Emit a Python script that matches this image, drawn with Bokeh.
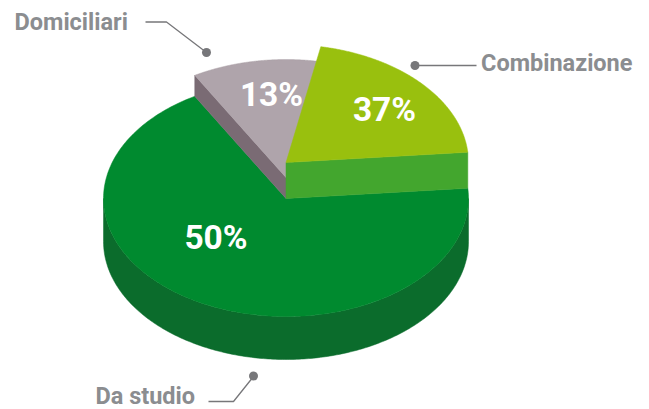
import numpy as np
from bokeh.plotting import figure, ColumnDataSource
from bokeh.core.properties import value
from bokeh.embed import file_html
from bokeh.resources import INLINE

# Data
categories = ["Da studio", "Combinazione", "Domiciliari"]
shares = [50, 37, 13]                # printed percentages
drawn_sweep_deg = [245, 74, 41]      # angular size of each slice as drawn in the picture
first_slice_start_deg = 120          # Da studio starts here and runs counter-clockwise

W, H = 649, 409
CX, RX, RY = 285.5, 182.5, 118
Y_BASE, Y_GRAY, Y_OLIVE = 198, 177, 162
DEPTH = 43

p = figure(width=W, height=H, x_range=(0, W), y_range=(H, 0),
           output_backend="svg", toolbar_location=None, min_border=0,
           x_axis_type="linear", outline_line_color=None)
p.axis.visible = False
p.grid.visible = False
p.background_fill_color = "white"


def arc(cy, a0, a1, n=240):
    t = np.radians(np.linspace(a0, a1, n))
    return CX + RX * np.cos(t), cy - RY * np.sin(t)


def wedge(cy, a0, a1):
    x, y = arc(cy, a0, a1)
    return np.r_[CX, x], np.r_[cy, y]


def pt(cy, a):
    t = np.radians(a)
    return CX + RX * np.cos(t), cy - RY * np.sin(t)


green_a0 = first_slice_start_deg
green_a1 = green_a0 + drawn_sweep_deg[0]
olive_a0 = green_a1 - 360
olive_a1 = olive_a0 + drawn_sweep_deg[1]
gray_a0 = olive_a1
gray_a1 = gray_a0 + drawn_sweep_deg[2]

# Outer wall of the base
xw, yw = arc(Y_BASE, 180, 360)
p.patch(np.r_[xw, xw[::-1]], np.r_[yw, (yw + DEPTH)[::-1]],
        fill_color="#0b6c2c", line_color="#0b6c2c", line_width=0.5)

# Base slice top
x, y = wedge(Y_BASE, green_a0, green_a1)
p.patch(x, y, fill_color="#008a2f", line_color="#008a2f", line_width=0.5)

# Gray slice: inner face, then top
ex, ey = pt(Y_GRAY, gray_a1)
ex2, ey2 = pt(Y_BASE, gray_a1)
p.patch([ex, CX, CX, ex2], [ey, Y_GRAY, Y_BASE, ey2],
        fill_color="#7a6b74", line_color="#7a6b74", line_width=0.5)
x, y = wedge(Y_GRAY, gray_a0, gray_a1)
p.patch(x, y, fill_color="#afa4ab", line_color="#afa4ab", line_width=0.5)

# Olive slice: inner face, then top
ex, ey = pt(Y_OLIVE, olive_a0)
ex2, ey2 = pt(Y_BASE, olive_a0)
p.patch([CX, ex, ex2, CX], [Y_OLIVE, ey, ey2, Y_BASE],
        fill_color="#43a62e", line_color="#43a62e", line_width=0.5)
x, y = wedge(Y_OLIVE, olive_a0, olive_a1)
p.patch(x, y, fill_color="#99c00e", line_color="#99c00e", line_width=0.5)

# Percent labels
pct = ColumnDataSource(dict(
    x=[215.5, 384, 271], y=[237, 109, 94],
    t=[f"{s}%" for s in shares]))
p.text("x", "y", text="t", source=pct, text_color="white",
       text_font=value("Roboto"), text_font_style="bold",
       text_font_size="33.5px", text_align="center", text_baseline="middle")

# Leader lines
LINE = "#77777a"
p.line([208, 233, 253], [401, 401, 376], line_color=LINE, line_width=1.3)
p.line([414, 476], [65, 65], line_color=LINE, line_width=1.3)
p.line([145, 166, 206], [21.5, 21.5, 52], line_color=LINE, line_width=1.3)
p.scatter([253, 414.5, 206], [375.5, 65, 52], size=9, marker="circle",
          fill_color=LINE, line_color=None)

# Category labels
lab = ColumnDataSource(dict(x=[95, 480.5, 14], y=[395, 62, 21.5], t=categories))
p.text("x", "y", text="t", source=lab, text_color="#8b8d90",
       text_font=value("Roboto"), text_font_style="bold",
       text_font_size="23.5px", text_align="left", text_baseline="middle")

open("out.html", "w").write(file_html(p, INLINE))
